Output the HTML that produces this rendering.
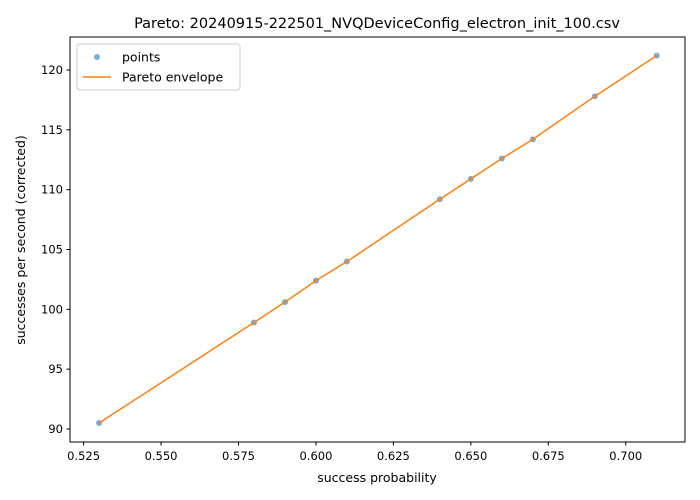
<!DOCTYPE html>
<html><head><meta charset="utf-8"><style>
body{margin:0;background:#fff;}
svg{display:block;font-family:"DejaVu Sans","Liberation Sans",sans-serif;}
</style></head><body>
<svg id="chart" width="700" height="500" xmlns="http://www.w3.org/2000/svg">
<rect width="700" height="500" fill="#fff"/>
<text x="377" y="28" font-size="14.5" text-anchor="middle">Pareto: 20240915-222501_NVQDeviceConfig_electron_init_100.csv</text>
<g id="marks"></g>
<rect x="70" y="37" width="615" height="405" fill="none" stroke="#000" stroke-width="1"/>
<g id="xticks"></g><g id="yticks"></g>
<text x="377" y="482" font-size="12.5" text-anchor="middle">success probability</text>
<text transform="translate(25,240) rotate(-90)" font-size="12.5" text-anchor="middle">successes per second (corrected)</text>
<g>
<rect x="77" y="44" width="163" height="46" rx="3" fill="#fff" stroke="#ccc"/>
<circle cx="97" cy="57" r="3" fill="#1f77b4" fill-opacity="0.6"/>
<text x="122" y="61.5" font-size="12.5">points</text>
<line x1="83" y1="77" x2="111" y2="77" stroke="#ff7f0e" stroke-width="1.5"/>
<text x="122" y="81.5" font-size="12.5">Pareto envelope</text>
</g>
</svg>
<script>
const xValues=[0.53,0.58,0.59,0.60,0.61,0.64,0.65,0.66,0.67,0.69,0.71];
const yValues=[90.5,98.9,100.6,102.4,104.0,109.2,110.9,112.6,114.2,117.8,121.2];
const xTickLabels=["0.525","0.550","0.575","0.600","0.625","0.650","0.675","0.700"];
const yTickLabels=["90","95","100","105","110","115","120"];
const NS="http://www.w3.org/2000/svg";
function sx(v){return 83.6+(v-0.525)/0.025*77.45;}
function sy(v){return 429-(v-90)*11.967;}
function mk(t,a,p){const e=document.createElementNS(NS,t);for(const k in a)e.setAttribute(k,a[k]);p.appendChild(e);return e;}
const marks=document.getElementById('marks');
const line=mk('polyline',{points:xValues.map((x,i)=>sx(x)+','+sy(yValues[i])).join(' '),fill:'none',stroke:'#ff7f0e','stroke-width':1.5},marks);


xValues.forEach((x,i)=>{
 const c=mk('circle',{cx:sx(x),cy:sy(yValues[i]),r:3,fill:'#1f77b4','fill-opacity':0.6},marks);
 
 
});
marks.appendChild(line);
const xt=document.getElementById('xticks');
xTickLabels.forEach(l=>{
 const x=sx(parseFloat(l));
 const t=mk('line',{x1:x,x2:x,y1:442,y2:445.5,stroke:'#000'},xt);
 
 
 const s=mk('text',{x:x,y:460,'font-size':11.5,'text-anchor':'middle'},xt);s.textContent=l;
 
 
});
const yt=document.getElementById('yticks');
yTickLabels.forEach(l=>{
 const y=sy(parseFloat(l));
 const t=mk('line',{x1:66.5,x2:70,y1:y,y2:y,stroke:'#000'},yt);
 
 
 const s=mk('text',{x:63,y:y+4,'font-size':11.5,'text-anchor':'end'},yt);s.textContent=l;
 
 
});
</script>
</body></html>
